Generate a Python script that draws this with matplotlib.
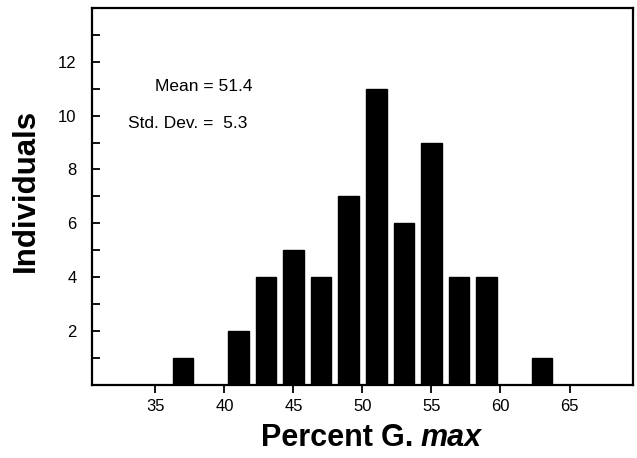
import matplotlib
matplotlib.use("Agg")
import matplotlib.pyplot as plt
import numpy as np

plt.rcParams["font.family"] = ["Liberation Sans", "DejaVu Sans"]

# histogram bins (percent G. max) and counts
bin_centers = [37, 41, 43, 45, 47, 49, 51, 53, 55, 57, 59, 63]
counts = [1, 2, 4, 5, 4, 7, 11, 6, 9, 4, 4, 1]
x_ticks = [35, 40, 45, 50, 55, 60, 65]
y_ticks = [2, 4, 6, 8, 10, 12]

fig = plt.figure(figsize=(6.37, 4.58), dpi=100)
ax = fig.add_axes([0.1444, 0.160, 0.8493, 0.8225])

ax.bar(bin_centers, counts, width=1.5, color="black", edgecolor="black")

ax.set_xlim(30.4, 69.6)
ax.set_ylim(0, 14)
ax.set_xticks(x_ticks)
ax.set_yticks(y_ticks)
ax.set_yticks(np.arange(1, 14, 2), minor=True)
ax.tick_params(axis="x", direction="out", length=6, width=1.3, labelsize=12, pad=4)
ax.tick_params(axis="y", which="both", direction="in", length=6, width=1.3, labelsize=12, pad=11)
for s in ax.spines.values():
    s.set_linewidth(1.6)

ax.text(34.97, 11.1, "Mean = 51.4", fontsize=12.5, va="center")
ax.text(33.0, 9.7, "Std. Dev. =  5.3", fontsize=12.5, va="center")

ax.set_ylabel("Individuals", fontsize=22.5, fontweight="bold")
ax.yaxis.set_label_coords(-0.094, 0.515)
ax.text(0.535, -0.142, "Percent ", transform=ax.transAxes, ha="right", va="center",
        fontsize=22, fontweight="bold")
ax.text(0.535, -0.142, "G. ", transform=ax.transAxes, ha="left", va="center",
        fontsize=22, fontweight="bold")
ax.text(0.607, -0.142, "max", transform=ax.transAxes, ha="left", va="center",
        fontsize=22, fontweight="bold", style="italic")

fig.savefig("out.png", dpi=100)
